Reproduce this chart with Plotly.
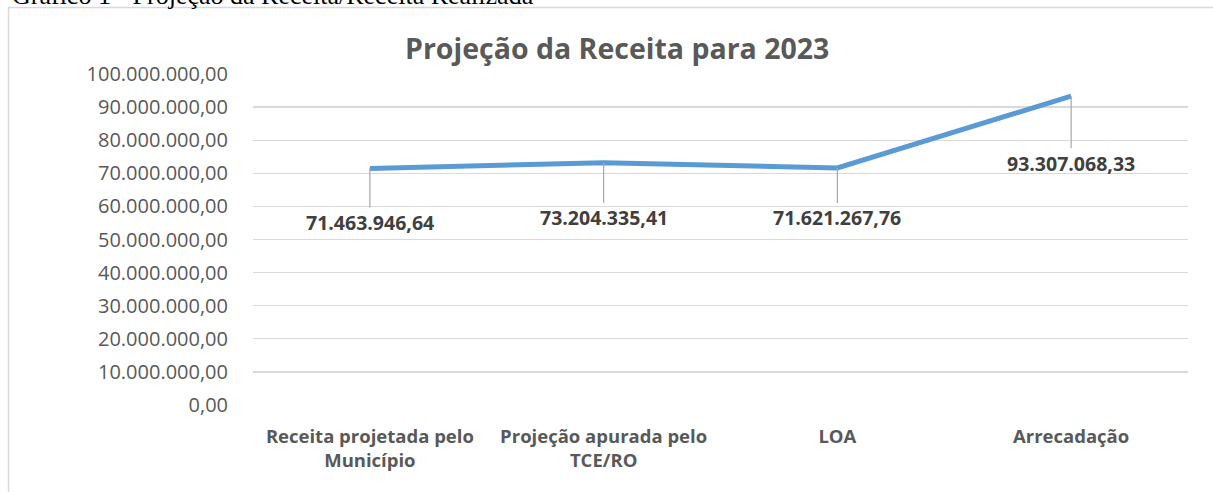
import plotly.graph_objects as go

categories = ["Receita projetada pelo<br>Município", "Projeção apurada pelo<br>TCE/RO", "LOA", "Arrecadação"]
values = [71463946.64, 73204335.41, 71621267.76, 93307068.33]
label_texts = ["71.463.946,64", "73.204.335,41", "71.621.267,76", "93.307.068,33"]
label_offsets = [54, 55, 50, 67]
tick_vals = [i * 10000000 for i in range(11)]
tick_text = ["0,00", "10.000.000,00", "20.000.000,00", "30.000.000,00", "40.000.000,00",
             "50.000.000,00", "60.000.000,00", "70.000.000,00", "80.000.000,00",
             "90.000.000,00", "100.000.000,00"]

W, H = 1213, 492
L, R, T, B = 253, 25, 74, 87
pw, ph = W - L - R, H - T - B

def px(x):
    return (x - L) / pw

def py(y):
    return (H - B - y) / ph

fig = go.Figure()
fig.add_trace(go.Scatter(x=categories, y=values, mode="lines",
                         line=dict(color="#5b9bd5", width=5), hoverinfo="skip"))

for c, v, t, off in zip(categories, values, label_texts, label_offsets):
    fig.add_annotation(x=c, y=v, text=f"<b>{t}</b>", showarrow=True, arrowhead=0,
                       arrowwidth=1.2, arrowcolor="#a6a6a6", ax=0, ay=off, standoff=0,
                       font=dict(family="Open Sans", size=19.5, color="#404040"))

fig.add_annotation(xref="paper", yref="paper", x=px(617), y=py(48), text="<b>Projeção da Receita para 2023</b>",
                   showarrow=False, xanchor="center", yanchor="middle",
                   font=dict(family="Open Sans", size=28.5, color="#595959"))

fig.add_annotation(xref="paper", yref="paper", x=px(10), y=py(12), text="Gráfico 1 - Projeção da Receita/Receita Realizada",
                   showarrow=False, xanchor="left", yanchor="bottom",
                   font=dict(family="Liberation Serif", size=26, color="#000000"))

fig.add_shape(type="rect", xref="paper", yref="paper", x0=px(8.5), x1=px(1230), y0=py(510), y1=py(7.5),
              line=dict(color="#d9d9d9", width=1.5), fillcolor="rgba(0,0,0,0)", layer="below")

fig.update_layout(
    width=W, height=H, margin=dict(l=L, r=R, t=T, b=B, autoexpand=False),
    paper_bgcolor="white", plot_bgcolor="white", showlegend=False,
    xaxis=dict(showgrid=False, showline=False, zeroline=False, ticks="", range=[-0.5, 3.5],
               tickfont=dict(family="Open Sans", size=18.5, color="#595959", weight="bold"),
               ticklabelstandoff=18, fixedrange=True),
    yaxis=dict(range=[0, 100000000], tickvals=tick_vals, ticktext=tick_text,
               showgrid=True, gridcolor="#d9d9d9", gridwidth=1.3, zeroline=False, showline=False,
               tickfont=dict(family="Open Sans", size=20, color="#595959"),
               ticklabelstandoff=24, fixedrange=True),
)

fig.write_html("out.html", config={"displayModeBar": False, "staticPlot": True},
               post_script="document.body.style.margin='0';document.body.style.overflow='hidden';")
